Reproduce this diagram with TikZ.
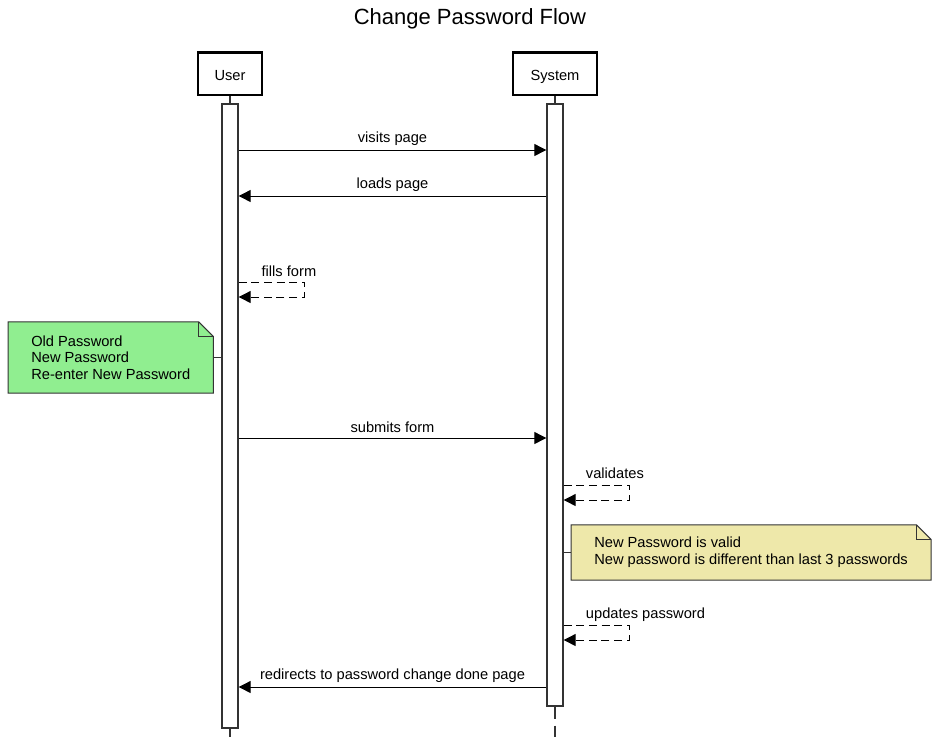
\documentclass[tikz,border=0pt]{standalone}
\usepackage{fontspec}
\setmainfont{Liberation Sans}
\usetikzlibrary{arrows.meta,positioning,backgrounds}
\definecolor{notegreen}{HTML}{90EE90}
\definecolor{noteyellow}{HTML}{EEE8AA}
\definecolor{edgegray}{HTML}{333333}
\begin{document}
\begin{tikzpicture}[x=0.75pt,y=-0.75pt,
        every node/.style={font=\fontsize{11}{13}\selectfont},
        head/.style={draw,line width=2pt,minimum height=32pt,text height=10.5pt,text depth=0pt},
        bar/.style={draw=edgegray,fill=white,line width=1pt,minimum width=12pt,inner sep=0pt},
        life/.style={draw=edgegray,line width=1pt,dash pattern=on 9pt off 5.25pt},
        msg/.style={draw,line width=0.75pt,-{Triangle[length=9pt,width=9pt]}},
        selfmsg/.style={msg,dash pattern=on 6pt off 3.5pt},
        notebox/.style={align=left,anchor=west,inner xsep=17.25pt,font=\fontsize{11}{12.5}\selectfont},
        notefold/.style={draw=edgegray,line width=0.75pt}]
    \useasboundingbox (0,0) rectangle (940,744);
    \node[font=\fontsize{16.5}{20}\selectfont] (title) at (470,18.5) {Change Password Flow};
    \node[head,minimum width=48pt] (user) at (230,73.5) {User};
    \node[head,minimum width=63pt] (system) at (555,73.5) {System};
    \coordinate (uend) at (230,737);
    \coordinate (send) at (555,737);
    \draw[edgegray,line width=1pt] (user.south) -- (uend);
    \draw[edgegray,line width=1pt] (system.south) -- ++(0,30);
    \node[bar,minimum height=468pt] (uact) at (230,416) {};
    \node[bar,minimum height=451.5pt] (sact) at (555,405) {};
    \draw[life] (sact.south) -- (send);
    \draw[msg] (uact.east |- 0,150) -- (sact.west |- 0,150) node[midway,above] {visits page};
    \draw[msg] (sact.west |- 0,196) -- (uact.east |- 0,196) node[midway,above] {loads page};
    \draw[selfmsg] (uact.east |- 0,282) coordinate (fill1) -- ++(66,0) -- ++(0,15) -- (uact.east |- 0,297);
    \node[anchor=base west] (filllbl) at ([xshift=13.7pt,yshift=4.5pt]fill1) {fills form};
    \node[notebox,minimum height=53pt] (fields) at (8,357.5) {Old Password\\New Password\\Re-enter New Password};
    \begin{scope}[on background layer]
        \draw[notefold,fill=notegreen] (fields.north west) -- ([xshift=-11pt]fields.north east) -- ([yshift=-11pt]fields.north east) -- (fields.south east) -- (fields.south west) -- cycle;
    \end{scope}
    \draw[notefold] ([xshift=-11pt]fields.north east) |- ([yshift=-11pt]fields.north east);
    \draw[notefold] (fields.east) -- (uact.west |- fields.east);
    \draw[msg] (uact.east |- 0,438) -- (sact.west |- 0,438) node[midway,above] {submits form};
    \draw[selfmsg] (sact.east |- 0,485) coordinate (val1) -- ++(66,0) -- ++(0,15) -- (sact.east |- 0,500);
    \node[anchor=base west] (vallbl) at ([xshift=13.2pt,yshift=5pt]val1) {validates};
    \node[notebox,minimum height=41pt] (rules) at (571,552.5) {New Password is valid\\New password is different than last 3 passwords};
    \begin{scope}[on background layer]
        \draw[notefold,fill=noteyellow] (rules.north west) -- ([xshift=-11pt]rules.north east) -- ([yshift=-11pt]rules.north east) -- (rules.south east) -- (rules.south west) -- cycle;
    \end{scope}
    \draw[notefold] ([xshift=-11pt]rules.north east) |- ([yshift=-11pt]rules.north east);
    \draw[notefold] (sact.east |- rules.west) -- (rules.west);
    \draw[selfmsg] (sact.east |- 0,625) coordinate (upd1) -- ++(66,0) -- ++(0,15) -- (sact.east |- 0,640);
    \node[anchor=base west] (updlbl) at ([xshift=13.2pt,yshift=5pt]upd1) {updates password};
    \draw[msg] (sact.west |- 0,687) -- (uact.east |- 0,687) node[midway,above] {redirects to password change done page};
\end{tikzpicture}
\end{document}
